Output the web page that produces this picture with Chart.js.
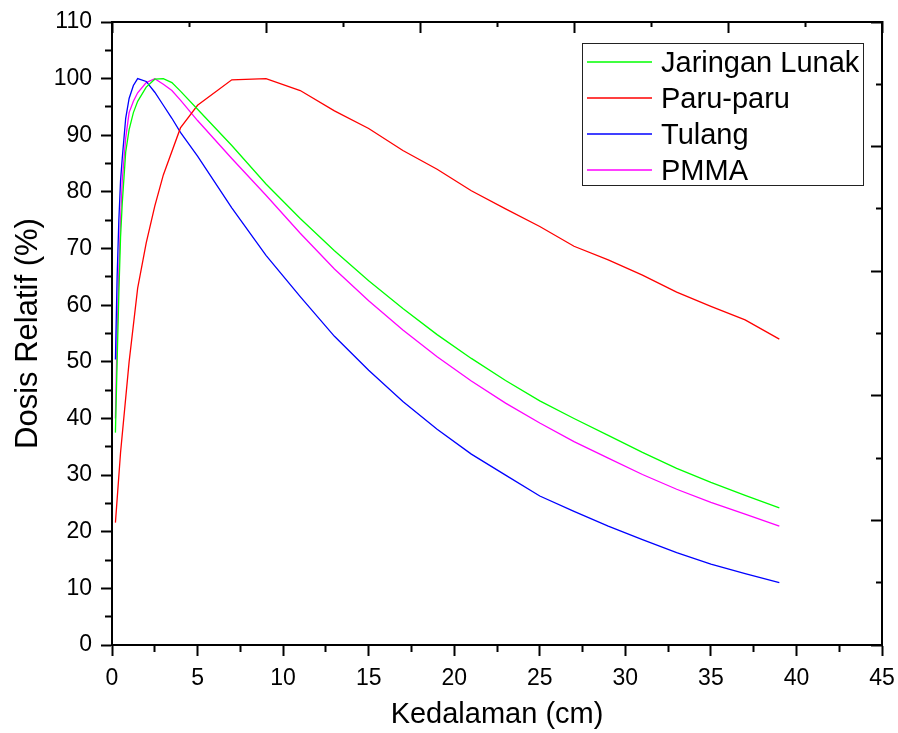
<!DOCTYPE html>
<html>
<head>
<meta charset="utf-8">
<title>Dosis Relatif</title>
<script src="https://cdn.jsdelivr.net/npm/chart.js@4.4.1/dist/chart.umd.min.js"></script>
<style>
  html, body { margin: 0; padding: 0; background: #fff; }
  #wrap { width: 898px; height: 733px; }
</style>
</head>
<body>
<div id="wrap"><canvas id="myChart" width="898" height="733"></canvas></div>
<script>
// kedalaman (cm) - sama untuk jaringan lunak, tulang, PMMA
var depth = [0.2, 0.3, 0.4, 0.5, 0.6, 0.8, 1, 1.25, 1.5, 2, 2.5, 3, 3.5, 4, 5,
             7, 9, 11, 13, 15, 17, 19, 21, 23, 25, 27, 29, 31, 33, 35, 37, 39];
var doseLunak = [37.5, 50, 62, 72, 78, 87, 91, 94, 96, 98.5, 99.9, 100, 99.3, 97.8, 94.6,
                 88.2, 81.4, 75.3, 69.6, 64.3, 59.4, 54.8, 50.6, 46.7, 43.1, 40.0, 37.0, 34.0, 31.2, 28.7, 26.4, 24.2];
var doseTulang = [50.4, 65, 75, 82, 86, 93, 96.5, 98.8, 100, 99.5, 97.6, 95.3, 93, 90.5, 86.3,
                  77.2, 68.8, 61.5, 54.5, 48.5, 43.0, 38.1, 33.7, 30.0, 26.3, 23.6, 21.0, 18.6, 16.3, 14.3, 12.6, 11.0];
var dosePMMA = [40, 55, 66, 75, 82, 89.5, 94, 96, 97.5, 99.3, 100, 99, 97.9, 96.2, 92.6,
                85.9, 79.4, 72.7, 66.4, 60.8, 55.6, 50.9, 46.6, 42.7, 39.2, 35.9, 33.0, 30.1, 27.5, 25.2, 23.1, 21.0];

// paru-paru punya titik kedalaman sendiri
var depthParu = [0.2, 0.5, 1, 1.5, 2, 2.5, 3, 4, 5,
                 7, 9, 11, 13, 15, 17, 19, 21, 23, 25, 27, 29, 31, 33, 35, 37, 39];
var doseParu = [21.6, 34, 50, 63, 71, 77.5, 83, 91.3, 95.3,
                99.8, 100, 97.9, 94.3, 91.2, 87.3, 84.0, 80.2, 77.0, 73.9, 70.4, 68.0, 65.3, 62.3, 59.8, 57.4, 54.0];

var labels = ["Jaringan Lunak", "Paru-paru", "Tulang", "PMMA"];
var colors = ["#00ff00", "#ff0000", "#0000ff", "#ff00ff"];

function toPoints(xs, ys) {
    return xs.map(function (x, i) { return { x: x, y: ys[i] }; });
}

var FONT = '"Liberation Sans", Arial, sans-serif';

function near(v, step) {
    return Math.abs(v / step - Math.round(v / step)) < 1e-6;
}

// ticks pendek untuk minor, panjang untuk major
function tickAxis(opts) {
    return {
        type: 'linear',
        position: opts.position,
        min: 0,
        max: opts.max,
        afterFit: function (s) {
            opts.fit(s);
            // label 45 boleh keluar sedikit, jangan perkecil area plot
            s.paddingLeft = s.paddingRight = s.paddingTop = s.paddingBottom = 0;
        },
        border: { display: true, color: '#000', width: 2 },
        grid: {
            drawOnChartArea: false,
            drawTicks: true,
            tickLength: opts.tickLength,
            tickColor: '#000',
            tickWidth: 2,
            tickBorderDash: function (c) {
                return near(c.tick.value, opts.major) ? [] : opts.minorDash;
            }
        },
        ticks: {
            display: opts.labels,
            stepSize: opts.step,
            autoSkip: false,
            maxRotation: 0,
            padding: 9,
            color: '#000',
            font: { family: FONT, size: 23 },
            callback: function (v) { return near(v, opts.major) ? v : ''; }
        },
        title: opts.title || { display: false }
    };
}

const boxLegend = {
    id: 'boxLegend',
    afterDraw(chart) {
        const ctx = chart.ctx;
        ctx.save();
        ctx.strokeStyle = '#222';
        ctx.lineWidth = 1;
        ctx.strokeRect(582.5, 43.5, 281, 142);
        ctx.font = '29px ' + FONT;
        ctx.textBaseline = 'alphabetic';
        chart.data.datasets.forEach(function (ds, i) {
            const y = 62 + i * 36;
            ctx.strokeStyle = ds.borderColor;
            ctx.lineWidth = 1.3;
            ctx.beginPath();
            ctx.moveTo(587, y);
            ctx.lineTo(652, y);
            ctx.stroke();
            ctx.fillStyle = '#000';
            ctx.fillText(ds.label, 661, y + 10);
        });
        ctx.restore();
    }
};

const CHART = document.getElementById("myChart");
let myChart = new Chart(CHART, {
    type: 'line',
    data: {
        datasets: [
            { label: labels[0], data: toPoints(depth, doseLunak), borderColor: colors[0] },
            { label: labels[1], data: toPoints(depthParu, doseParu), borderColor: colors[1] },
            { label: labels[2], data: toPoints(depth, doseTulang), borderColor: colors[2] },
            { label: labels[3], data: toPoints(depth, dosePMMA), borderColor: colors[3] }
        ]
    },
    options: {
        responsive: false,
        devicePixelRatio: 1,
        animation: false,
        layout: { padding: 0 },
        elements: {
            line: { borderWidth: 1.3, tension: 0, fill: false },
            point: { radius: 0 }
        },
        plugins: {
            legend: { display: false },
            tooltip: { enabled: false }
        },
        scales: {
            x: tickAxis({
                position: 'bottom', max: 45, step: 2.5, major: 5, labels: true,
                tickLength: 11, minorDash: [6, 100],
                fit: function (s) { s.height = 88; },
                title: { display: true, text: 'Kedalaman (cm)', color: '#000',
                         font: { family: FONT, size: 29 }, padding: { top: 0, bottom: 1 } }
            }),
            x2: tickAxis({
                position: 'top', max: 45, step: 4.5, major: 9, labels: false,
                tickLength: -11, minorDash: [0, 6, 6, 100],
                fit: function (s) { s.height = 22; }
            }),
            y: tickAxis({
                position: 'left', max: 110, step: 5, major: 10, labels: true,
                tickLength: 11, minorDash: [0, 4, 6, 100],
                fit: function (s) { s.width = 112; },
                title: { display: true, text: 'Dosis Relatif (%)', color: '#000',
                         font: { family: FONT, size: 31 }, padding: { top: 10, bottom: 0 } }
            }),
            y2: tickAxis({
                position: 'right', max: 110, step: 11, major: 22, labels: false,
                tickLength: -11, minorDash: [7, 100],
                fit: function (s) { s.width = 16; }
            })
        }
    },
    plugins: [boxLegend]
});
</script>
</body>
</html>
